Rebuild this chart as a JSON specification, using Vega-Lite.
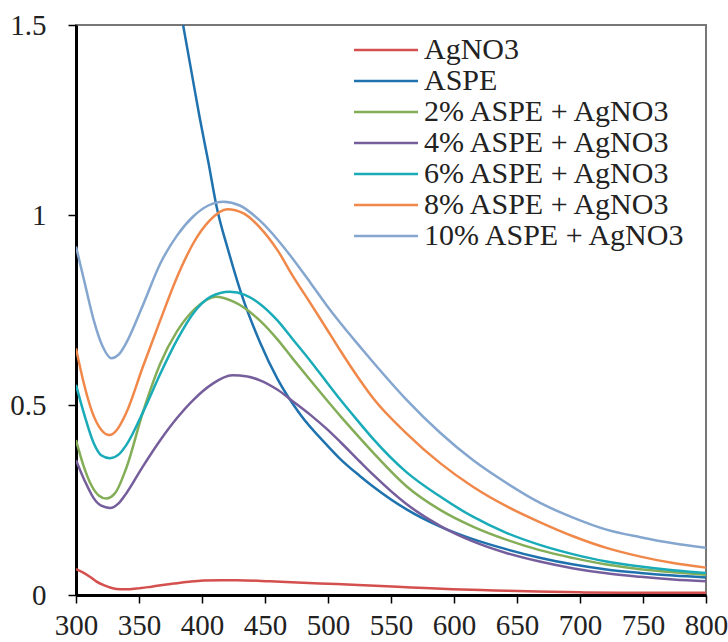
{
  "$schema": "https://vega.github.io/schema/vega-lite/v6.json",
  "width": 630,
  "height": 570,
  "autosize": {"type": "none"},
  "padding": {"left": 76, "top": 25, "right": 22, "bottom": 47},
  "background": "white",
  "config": {
    "view": {"stroke": "#777777", "strokeWidth": 2},
    "font": "Liberation Serif",
    "axis": {
      "grid": false,
      "domainColor": "#000000",
      "domainWidth": 3,
      "tickColor": "#000000",
      "tickWidth": 1.5,
      "tickSize": 8,
      "labelFont": "Liberation Serif",
      "labelFontSize": 29,
      "labelColor": "#222222",
      "title": null
    },
    "legend": {
      "labelFont": "Liberation Serif",
      "labelFontSize": 30,
      "labelColor": "#222222",
      "labelLimit": 500
    }
  },
  "data": {
    "values": [
      {"series": "AgNO3", "wl": 300, "abs": 0.068},
      {"series": "AgNO3", "wl": 305, "abs": 0.060},
      {"series": "AgNO3", "wl": 311, "abs": 0.048},
      {"series": "AgNO3", "wl": 316, "abs": 0.036},
      {"series": "AgNO3", "wl": 322, "abs": 0.026},
      {"series": "AgNO3", "wl": 332, "abs": 0.016},
      {"series": "AgNO3", "wl": 340, "abs": 0.015},
      {"series": "AgNO3", "wl": 348, "abs": 0.017},
      {"series": "AgNO3", "wl": 360, "abs": 0.022},
      {"series": "AgNO3", "wl": 375, "abs": 0.029},
      {"series": "AgNO3", "wl": 390, "abs": 0.035},
      {"series": "AgNO3", "wl": 401, "abs": 0.038},
      {"series": "AgNO3", "wl": 415, "abs": 0.039},
      {"series": "AgNO3", "wl": 428, "abs": 0.039},
      {"series": "AgNO3", "wl": 454, "abs": 0.036},
      {"series": "AgNO3", "wl": 480, "abs": 0.032},
      {"series": "AgNO3", "wl": 507, "abs": 0.029},
      {"series": "AgNO3", "wl": 533, "abs": 0.025},
      {"series": "AgNO3", "wl": 566, "abs": 0.020},
      {"series": "AgNO3", "wl": 599, "abs": 0.015},
      {"series": "AgNO3", "wl": 632, "abs": 0.012},
      {"series": "AgNO3", "wl": 666, "abs": 0.009},
      {"series": "AgNO3", "wl": 700, "abs": 0.007},
      {"series": "AgNO3", "wl": 732, "abs": 0.006},
      {"series": "AgNO3", "wl": 765, "abs": 0.006},
      {"series": "AgNO3", "wl": 800, "abs": 0.006},

      {"series": "ASPE", "wl": 385, "abs": 1.5},
      {"series": "ASPE", "wl": 392, "abs": 1.37},
      {"series": "ASPE", "wl": 398, "abs": 1.259},
      {"series": "ASPE", "wl": 405, "abs": 1.14},
      {"series": "ASPE", "wl": 411.6, "abs": 1.022},
      {"series": "ASPE", "wl": 421, "abs": 0.905},
      {"series": "ASPE", "wl": 431, "abs": 0.795},
      {"series": "ASPE", "wl": 446, "abs": 0.665},
      {"series": "ASPE", "wl": 460, "abs": 0.568},
      {"series": "ASPE", "wl": 478, "abs": 0.475},
      {"series": "ASPE", "wl": 499, "abs": 0.395},
      {"series": "ASPE", "wl": 510, "abs": 0.357},
      {"series": "ASPE", "wl": 525, "abs": 0.314},
      {"series": "ASPE", "wl": 536, "abs": 0.285},
      {"series": "ASPE", "wl": 562, "abs": 0.226},
      {"series": "ASPE", "wl": 589, "abs": 0.180},
      {"series": "ASPE", "wl": 615, "abs": 0.147},
      {"series": "ASPE", "wl": 642, "abs": 0.120},
      {"series": "ASPE", "wl": 668, "abs": 0.098},
      {"series": "ASPE", "wl": 695, "abs": 0.080},
      {"series": "ASPE", "wl": 721, "abs": 0.067},
      {"series": "ASPE", "wl": 748, "abs": 0.058},
      {"series": "ASPE", "wl": 774, "abs": 0.051},
      {"series": "ASPE", "wl": 800, "abs": 0.046},

      {"series": "2% ASPE + AgNO3", "wl": 300, "abs": 0.408},
      {"series": "2% ASPE + AgNO3", "wl": 306, "abs": 0.340},
      {"series": "2% ASPE + AgNO3", "wl": 312, "abs": 0.290},
      {"series": "2% ASPE + AgNO3", "wl": 318, "abs": 0.262},
      {"series": "2% ASPE + AgNO3", "wl": 324, "abs": 0.254},
      {"series": "2% ASPE + AgNO3", "wl": 331, "abs": 0.268},
      {"series": "2% ASPE + AgNO3", "wl": 340, "abs": 0.335},
      {"series": "2% ASPE + AgNO3", "wl": 353, "abs": 0.480},
      {"series": "2% ASPE + AgNO3", "wl": 367, "abs": 0.610},
      {"series": "2% ASPE + AgNO3", "wl": 380, "abs": 0.693},
      {"series": "2% ASPE + AgNO3", "wl": 395, "abs": 0.755},
      {"series": "2% ASPE + AgNO3", "wl": 411, "abs": 0.785},
      {"series": "2% ASPE + AgNO3", "wl": 425, "abs": 0.772},
      {"series": "2% ASPE + AgNO3", "wl": 446, "abs": 0.722},
      {"series": "2% ASPE + AgNO3", "wl": 460, "abs": 0.672},
      {"series": "2% ASPE + AgNO3", "wl": 472, "abs": 0.622},
      {"series": "2% ASPE + AgNO3", "wl": 486, "abs": 0.565},
      {"series": "2% ASPE + AgNO3", "wl": 499, "abs": 0.513},
      {"series": "2% ASPE + AgNO3", "wl": 510, "abs": 0.470},
      {"series": "2% ASPE + AgNO3", "wl": 525, "abs": 0.414},
      {"series": "2% ASPE + AgNO3", "wl": 536, "abs": 0.374},
      {"series": "2% ASPE + AgNO3", "wl": 562, "abs": 0.287},
      {"series": "2% ASPE + AgNO3", "wl": 589, "abs": 0.224},
      {"series": "2% ASPE + AgNO3", "wl": 615, "abs": 0.180},
      {"series": "2% ASPE + AgNO3", "wl": 642, "abs": 0.145},
      {"series": "2% ASPE + AgNO3", "wl": 668, "abs": 0.118},
      {"series": "2% ASPE + AgNO3", "wl": 695, "abs": 0.097},
      {"series": "2% ASPE + AgNO3", "wl": 721, "abs": 0.080},
      {"series": "2% ASPE + AgNO3", "wl": 748, "abs": 0.068},
      {"series": "2% ASPE + AgNO3", "wl": 774, "abs": 0.060},
      {"series": "2% ASPE + AgNO3", "wl": 800, "abs": 0.053},

      {"series": "4% ASPE + AgNO3", "wl": 300, "abs": 0.355},
      {"series": "4% ASPE + AgNO3", "wl": 307, "abs": 0.300},
      {"series": "4% ASPE + AgNO3", "wl": 314, "abs": 0.255},
      {"series": "4% ASPE + AgNO3", "wl": 320, "abs": 0.235},
      {"series": "4% ASPE + AgNO3", "wl": 327, "abs": 0.229},
      {"series": "4% ASPE + AgNO3", "wl": 334, "abs": 0.242},
      {"series": "4% ASPE + AgNO3", "wl": 340, "abs": 0.268},
      {"series": "4% ASPE + AgNO3", "wl": 353, "abs": 0.338},
      {"series": "4% ASPE + AgNO3", "wl": 367, "abs": 0.408},
      {"series": "4% ASPE + AgNO3", "wl": 380, "abs": 0.465},
      {"series": "4% ASPE + AgNO3", "wl": 393, "abs": 0.513},
      {"series": "4% ASPE + AgNO3", "wl": 408, "abs": 0.555},
      {"series": "4% ASPE + AgNO3", "wl": 424, "abs": 0.578},
      {"series": "4% ASPE + AgNO3", "wl": 436, "abs": 0.575},
      {"series": "4% ASPE + AgNO3", "wl": 446, "abs": 0.565},
      {"series": "4% ASPE + AgNO3", "wl": 460, "abs": 0.540},
      {"series": "4% ASPE + AgNO3", "wl": 472, "abs": 0.510},
      {"series": "4% ASPE + AgNO3", "wl": 486, "abs": 0.474},
      {"series": "4% ASPE + AgNO3", "wl": 499, "abs": 0.437},
      {"series": "4% ASPE + AgNO3", "wl": 510, "abs": 0.402},
      {"series": "4% ASPE + AgNO3", "wl": 525, "abs": 0.352},
      {"series": "4% ASPE + AgNO3", "wl": 536, "abs": 0.316},
      {"series": "4% ASPE + AgNO3", "wl": 562, "abs": 0.240},
      {"series": "4% ASPE + AgNO3", "wl": 589, "abs": 0.182},
      {"series": "4% ASPE + AgNO3", "wl": 615, "abs": 0.141},
      {"series": "4% ASPE + AgNO3", "wl": 642, "abs": 0.110},
      {"series": "4% ASPE + AgNO3", "wl": 668, "abs": 0.088},
      {"series": "4% ASPE + AgNO3", "wl": 695, "abs": 0.070},
      {"series": "4% ASPE + AgNO3", "wl": 721, "abs": 0.057},
      {"series": "4% ASPE + AgNO3", "wl": 748, "abs": 0.048},
      {"series": "4% ASPE + AgNO3", "wl": 774, "abs": 0.041},
      {"series": "4% ASPE + AgNO3", "wl": 800, "abs": 0.036},

      {"series": "6% ASPE + AgNO3", "wl": 300, "abs": 0.553},
      {"series": "6% ASPE + AgNO3", "wl": 307, "abs": 0.470},
      {"series": "6% ASPE + AgNO3", "wl": 314, "abs": 0.400},
      {"series": "6% ASPE + AgNO3", "wl": 320, "abs": 0.368},
      {"series": "6% ASPE + AgNO3", "wl": 327, "abs": 0.360},
      {"series": "6% ASPE + AgNO3", "wl": 334, "abs": 0.370},
      {"series": "6% ASPE + AgNO3", "wl": 340, "abs": 0.395},
      {"series": "6% ASPE + AgNO3", "wl": 353, "abs": 0.480},
      {"series": "6% ASPE + AgNO3", "wl": 367, "abs": 0.583},
      {"series": "6% ASPE + AgNO3", "wl": 380, "abs": 0.670},
      {"series": "6% ASPE + AgNO3", "wl": 393, "abs": 0.741},
      {"series": "6% ASPE + AgNO3", "wl": 407, "abs": 0.785},
      {"series": "6% ASPE + AgNO3", "wl": 422, "abs": 0.798},
      {"series": "6% ASPE + AgNO3", "wl": 434, "abs": 0.790},
      {"series": "6% ASPE + AgNO3", "wl": 446, "abs": 0.766},
      {"series": "6% ASPE + AgNO3", "wl": 460, "abs": 0.722},
      {"series": "6% ASPE + AgNO3", "wl": 472, "abs": 0.673},
      {"series": "6% ASPE + AgNO3", "wl": 486, "abs": 0.616},
      {"series": "6% ASPE + AgNO3", "wl": 499, "abs": 0.560},
      {"series": "6% ASPE + AgNO3", "wl": 510, "abs": 0.513},
      {"series": "6% ASPE + AgNO3", "wl": 525, "abs": 0.453},
      {"series": "6% ASPE + AgNO3", "wl": 536, "abs": 0.410},
      {"series": "6% ASPE + AgNO3", "wl": 562, "abs": 0.324},
      {"series": "6% ASPE + AgNO3", "wl": 589, "abs": 0.259},
      {"series": "6% ASPE + AgNO3", "wl": 615, "abs": 0.206},
      {"series": "6% ASPE + AgNO3", "wl": 642, "abs": 0.163},
      {"series": "6% ASPE + AgNO3", "wl": 668, "abs": 0.132},
      {"series": "6% ASPE + AgNO3", "wl": 695, "abs": 0.107},
      {"series": "6% ASPE + AgNO3", "wl": 721, "abs": 0.088},
      {"series": "6% ASPE + AgNO3", "wl": 748, "abs": 0.075},
      {"series": "6% ASPE + AgNO3", "wl": 774, "abs": 0.065},
      {"series": "6% ASPE + AgNO3", "wl": 800, "abs": 0.058},

      {"series": "8% ASPE + AgNO3", "wl": 300, "abs": 0.649},
      {"series": "8% ASPE + AgNO3", "wl": 306, "abs": 0.560},
      {"series": "8% ASPE + AgNO3", "wl": 313, "abs": 0.480},
      {"series": "8% ASPE + AgNO3", "wl": 320, "abs": 0.435},
      {"series": "8% ASPE + AgNO3", "wl": 326.5, "abs": 0.421},
      {"series": "8% ASPE + AgNO3", "wl": 333, "abs": 0.437},
      {"series": "8% ASPE + AgNO3", "wl": 340, "abs": 0.480},
      {"series": "8% ASPE + AgNO3", "wl": 353, "abs": 0.600},
      {"series": "8% ASPE + AgNO3", "wl": 367, "abs": 0.724},
      {"series": "8% ASPE + AgNO3", "wl": 380, "abs": 0.835},
      {"series": "8% ASPE + AgNO3", "wl": 393, "abs": 0.925},
      {"series": "8% ASPE + AgNO3", "wl": 406, "abs": 0.985},
      {"series": "8% ASPE + AgNO3", "wl": 420, "abs": 1.015},
      {"series": "8% ASPE + AgNO3", "wl": 433, "abs": 1.004},
      {"series": "8% ASPE + AgNO3", "wl": 446, "abs": 0.967},
      {"series": "8% ASPE + AgNO3", "wl": 460, "abs": 0.907},
      {"series": "8% ASPE + AgNO3", "wl": 472, "abs": 0.840},
      {"series": "8% ASPE + AgNO3", "wl": 486, "abs": 0.768},
      {"series": "8% ASPE + AgNO3", "wl": 499, "abs": 0.700},
      {"series": "8% ASPE + AgNO3", "wl": 510, "abs": 0.642},
      {"series": "8% ASPE + AgNO3", "wl": 525, "abs": 0.567},
      {"series": "8% ASPE + AgNO3", "wl": 536, "abs": 0.517},
      {"series": "8% ASPE + AgNO3", "wl": 562, "abs": 0.426},
      {"series": "8% ASPE + AgNO3", "wl": 589, "abs": 0.347},
      {"series": "8% ASPE + AgNO3", "wl": 615, "abs": 0.285},
      {"series": "8% ASPE + AgNO3", "wl": 642, "abs": 0.233},
      {"series": "8% ASPE + AgNO3", "wl": 668, "abs": 0.192},
      {"series": "8% ASPE + AgNO3", "wl": 695, "abs": 0.154},
      {"series": "8% ASPE + AgNO3", "wl": 721, "abs": 0.124},
      {"series": "8% ASPE + AgNO3", "wl": 748, "abs": 0.101},
      {"series": "8% ASPE + AgNO3", "wl": 774, "abs": 0.084},
      {"series": "8% ASPE + AgNO3", "wl": 800, "abs": 0.072},

      {"series": "10% ASPE + AgNO3", "wl": 300, "abs": 0.917},
      {"series": "10% ASPE + AgNO3", "wl": 307, "abs": 0.820},
      {"series": "10% ASPE + AgNO3", "wl": 314, "abs": 0.724},
      {"series": "10% ASPE + AgNO3", "wl": 321, "abs": 0.655},
      {"series": "10% ASPE + AgNO3", "wl": 328, "abs": 0.623},
      {"series": "10% ASPE + AgNO3", "wl": 334, "abs": 0.633},
      {"series": "10% ASPE + AgNO3", "wl": 340, "abs": 0.664},
      {"series": "10% ASPE + AgNO3", "wl": 353, "abs": 0.762},
      {"series": "10% ASPE + AgNO3", "wl": 367, "abs": 0.873},
      {"series": "10% ASPE + AgNO3", "wl": 380, "abs": 0.945},
      {"series": "10% ASPE + AgNO3", "wl": 393, "abs": 0.996},
      {"series": "10% ASPE + AgNO3", "wl": 405, "abs": 1.025},
      {"series": "10% ASPE + AgNO3", "wl": 417, "abs": 1.035},
      {"series": "10% ASPE + AgNO3", "wl": 430, "abs": 1.025},
      {"series": "10% ASPE + AgNO3", "wl": 446, "abs": 0.985},
      {"series": "10% ASPE + AgNO3", "wl": 460, "abs": 0.935},
      {"series": "10% ASPE + AgNO3", "wl": 472, "abs": 0.885},
      {"series": "10% ASPE + AgNO3", "wl": 486, "abs": 0.822},
      {"series": "10% ASPE + AgNO3", "wl": 499, "abs": 0.762},
      {"series": "10% ASPE + AgNO3", "wl": 510, "abs": 0.715},
      {"series": "10% ASPE + AgNO3", "wl": 525, "abs": 0.655},
      {"series": "10% ASPE + AgNO3", "wl": 536, "abs": 0.612},
      {"series": "10% ASPE + AgNO3", "wl": 562, "abs": 0.515},
      {"series": "10% ASPE + AgNO3", "wl": 589, "abs": 0.427},
      {"series": "10% ASPE + AgNO3", "wl": 615, "abs": 0.355},
      {"series": "10% ASPE + AgNO3", "wl": 642, "abs": 0.294},
      {"series": "10% ASPE + AgNO3", "wl": 668, "abs": 0.243},
      {"series": "10% ASPE + AgNO3", "wl": 695, "abs": 0.203},
      {"series": "10% ASPE + AgNO3", "wl": 721, "abs": 0.172},
      {"series": "10% ASPE + AgNO3", "wl": 748, "abs": 0.152},
      {"series": "10% ASPE + AgNO3", "wl": 774, "abs": 0.136},
      {"series": "10% ASPE + AgNO3", "wl": 800, "abs": 0.124}
    ]
  },
  "mark": {"type": "line", "interpolate": "monotone", "strokeWidth": 2.5, "clip": true},
  "encoding": {
    "x": {
      "field": "wl",
      "type": "quantitative",
      "scale": {"domain": [300, 800], "nice": false, "zero": false},
      "axis": {
        "values": [300, 350, 400, 450, 500, 550, 600, 650, 700, 750, 800],
        "labelOverlap": false,
        "labelFlush": false,
        "labelBound": false,
        "labelPadding": 8
      }
    },
    "y": {
      "field": "abs",
      "type": "quantitative",
      "scale": {"domain": [0, 1.5], "nice": false},
      "axis": {
        "values": [0, 0.5, 1, 1.5],
        "format": "~g",
        "labelOverlap": false,
        "labelFlush": false,
        "labelPadding": 22
      }
    },
    "color": {
      "field": "series",
      "type": "nominal",
      "sort": ["AgNO3", "ASPE", "2% ASPE + AgNO3", "4% ASPE + AgNO3", "6% ASPE + AgNO3", "8% ASPE + AgNO3", "10% ASPE + AgNO3"],
      "scale": {
        "domain": ["AgNO3", "ASPE", "2% ASPE + AgNO3", "4% ASPE + AgNO3", "6% ASPE + AgNO3", "8% ASPE + AgNO3", "10% ASPE + AgNO3"],
        "range": ["#D4504E", "#1F72AE", "#84AD58", "#765E9C", "#1AABB8", "#F0884A", "#85A6CE"]
      },
      "legend": {
        "title": null,
        "orient": "none",
        "legendX": 295,
        "legendY": 10,
        "symbolType": "M-2.56,0H2.56",
        "symbolSize": 625,
        "symbolStrokeWidth": 2.5,
        "labelOffset": 23,
        "rowPadding": 1,
        "padding": 0
      }
    }
  }
}
